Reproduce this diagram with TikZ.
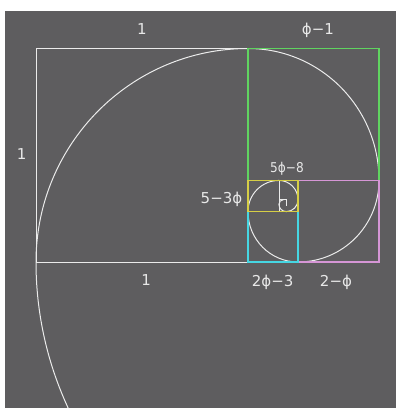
\documentclass[tikz,border=0pt]{standalone}
\usepackage{fontspec}
\setmainfont{DejaVu Sans}
\newfontfamily\condfont{DejaVu Sans Condensed}
\definecolor{bg}{RGB}{94,93,95}
\definecolor{wline}{RGB}{235,235,235}
\definecolor{gline}{RGB}{96,212,96}
\definecolor{pline}{RGB}{214,150,214}
\definecolor{cline}{RGB}{70,214,226}
\definecolor{yline}{RGB}{214,206,70}
\definecolor{txt}{RGB}{232,232,232}
\tikzset{
  wl/.style={draw=wline,line width=1pt},
  sq/.style={line width=1.1pt},
  lab/.style={text=txt,anchor=base,inner sep=0pt,font=\fontsize{15}{15}\selectfont},
  slab/.style={text=txt,anchor=base,inner sep=0pt,font=\condfont\fontsize{13.5}{13.5}\selectfont},
}
\begin{document}
\begin{tikzpicture}[x=212pt,y=213.5pt]
\useasboundingbox (-0.16981,-0.68384) rectangle (1.69811,1.22717);
\fill[white] (-0.16981,-0.68384) rectangle (1.69811,1.22717);
\fill[bg] (-0.14623,-0.68384) rectangle (1.69811,1.17564);
\begin{scope}
\clip (-0.14623,-0.68384) rectangle (1.69811,1.17564);
% outer unit square
\draw[wl] (0,0) rectangle (1,1);
% inner dividers
\draw[wl,line width=0.8pt] (1.145898,0.381966) -- (1.145898,0.236068);
\draw[wl,line width=0.8pt] (1.145898,0.291796) -- (1.180340,0.291796) -- (1.180340,0.262);
% spiral
\draw[wl] (0,0) arc[start angle=180,end angle=245,radius=1.618034];
\draw[wl] (0,0) arc[start angle=180,end angle=90,radius=1]
  arc[start angle=90,end angle=0,radius=0.618034]
  arc[start angle=0,end angle=-90,radius=0.381966]
  arc[start angle=-90,end angle=-180,radius=0.236068]
  arc[start angle=180,end angle=90,radius=0.145898]
  arc[start angle=90,end angle=0,radius=0.090170]
  arc[start angle=0,end angle=-90,radius=0.055728]
  arc[start angle=-90,end angle=-180,radius=0.034442]
  arc[start angle=180,end angle=90,radius=0.021286];
% coloured squares
\draw[sq,draw=gline] (1,0.381966) rectangle (1.618034,1);
\draw[sq,draw=pline] (1.236068,0) rectangle (1.618034,0.381966);
\draw[sq,draw=cline] (1,0) rectangle (1.236068,0.236068);
\draw[sq,draw=yline] (1,0.236068) rectangle (1.236068,0.381966);
\end{scope}
% labels
\node[lab] (ltop) at (0.5,1.064) {1};
\node[lab] (lphi) at (1.330,1.064) {ϕ−1};
\node[lab] (lleft) at (-0.068,0.478) {1};
\node[lab] (lbot) at (0.519,-0.108) {1};
\node[lab] (lc) at (1.116,-0.115) {2ϕ−3};
\node[lab] (lp) at (1.415,-0.115) {2−ϕ};
\node[lab] (ly) at (0.875,0.275) {5−3ϕ};
\node[slab] (ls) at (1.184,0.4215) {5ϕ−8};
\end{tikzpicture}
\end{document}
